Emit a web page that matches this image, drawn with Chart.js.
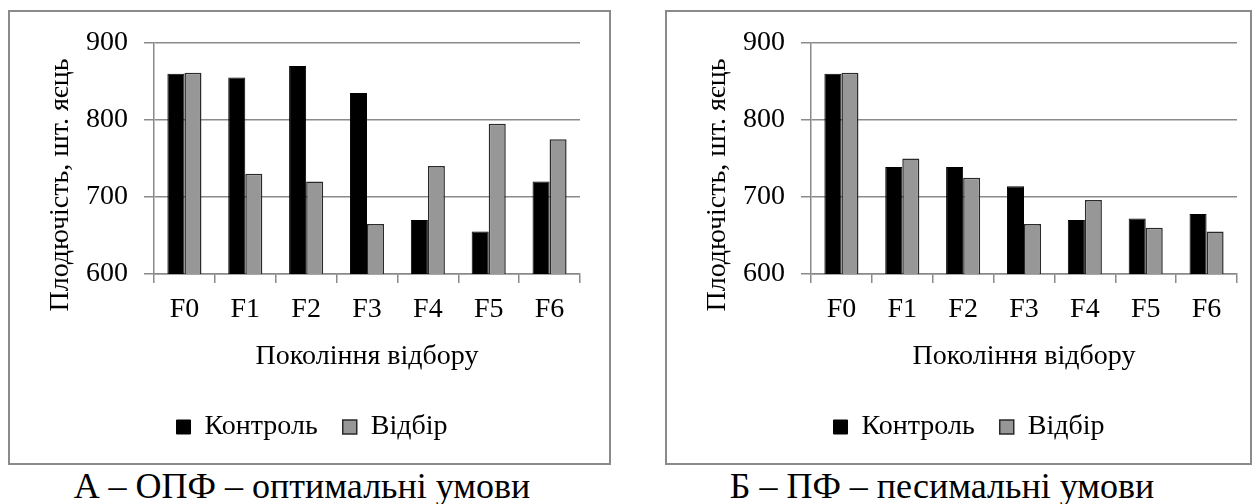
<!DOCTYPE html>
<html>
<head>
<meta charset="utf-8">
<script src="https://cdn.jsdelivr.net/npm/chart.js@4/dist/chart.umd.min.js"></script>
<style>
  html, body { margin: 0; padding: 0; background: #fff; }
  body { width: 1256px; height: 504px; position: relative; overflow: hidden;
         font-family: 'Liberation Serif', serif; }
  .frame { position: absolute; top: 10px; height: 455px; box-sizing: border-box;
           border: 2px solid #8a8a8a; }
  canvas { position: absolute; top: 10px; }
  .caption { position: absolute; top: 466px; font-family: 'Liberation Serif', serif;
             font-size: 36px; line-height: 40px; white-space: nowrap; color: #000;
             transform: translateX(-50%); }
</style>
</head>
<body>
<div class="frame" style="left:8px;width:603px"></div>
<div class="frame" style="left:665px;width:587px"></div>
<canvas id="chartOpt" width="601" height="454" style="left:8px"></canvas>
<canvas id="chartPes" width="591" height="454" style="left:665px"></canvas>
<div class="caption" style="left:302px">А – ОПФ – оптимальні умови</div>
<div class="caption" style="left:942px">Б – ПФ – песимальні умови</div>

<script>
// Generations of selection
const generations = ['F0', 'F1', 'F2', 'F3', 'F4', 'F5', 'F6'];

// Optimal conditions (ОПФ): eggs per hen
const optControl   = [860, 855, 870, 835, 670, 655, 720];
const optSelection = [861, 730, 720, 665, 740, 795, 775];

// Pessimal conditions (ПФ): eggs per hen
const pesControl   = [860, 739, 739, 714, 670, 672, 678];
const pesSelection = [861, 750, 725, 665, 696, 660, 655];

// Value axis range and step
const yMin = 600;
const yMax = 900;
const yStep = 100;

const seriesNames = ['Контроль', 'Відбір'];
const yTitle = 'Плодючість, шт. яєць';
const xTitle = 'Покоління відбору';

const FONT = "'Liberation Serif'";
const GRID = '#8a8a8a';

Chart.defaults.font.family = FONT;

// Rotated value-axis caption, placed beside the axis
const sideTitle = {
  id: 'sideTitle',
  afterDraw(chart, args, opts) {
    const ctx = chart.ctx;
    ctx.save();
    ctx.translate(opts.x, opts.y);
    ctx.rotate(-Math.PI / 2);
    ctx.font = '28px ' + FONT;
    ctx.fillStyle = '#000';
    ctx.textAlign = 'center';
    ctx.textBaseline = 'middle';
    ctx.fillText(opts.text, 0, 0);
    ctx.restore();
  }
};

function buildChart(id, control, selection, padRight) {
  return new Chart(document.getElementById(id), {
    type: 'bar',
    data: {
      labels: generations,
      datasets: [
        {
          label: seriesNames[0],
          data: control,
          backgroundColor: '#000000',
          borderColor: '#000000',
          borderWidth: 1
        },
        {
          label: seriesNames[1],
          data: selection,
          backgroundColor: '#979797',
          borderColor: '#2a2a2a',
          borderWidth: 1.5
        }
      ]
    },
    options: {
      responsive: false,
      animation: false,
      devicePixelRatio: 1,
      layout: { padding: { top: 31, left: 36, right: padRight, bottom: 13 } },
      datasets: { bar: { barPercentage: 1, categoryPercentage: 0.56, borderSkipped: 'start' } },
      scales: {
        x: {
          afterFit(scale) { scale.height = 114; },
          grid: {
            display: true, offset: true, drawOnChartArea: false,
            color: GRID, lineWidth: 1.5, tickLength: 9
          },
          border: { display: true, color: GRID, width: 1.5 },
          ticks: { color: '#000', padding: 10, font: { family: FONT, size: 28 } },
          title: {
            display: true, text: xTitle, color: '#000',
            font: { family: FONT, size: 28 }, padding: { top: 0, bottom: 15 }
          }
        },
        y: {
          min: yMin, max: yMax,
          afterFit(scale) { scale.width = 110; },
          grid: { color: GRID, lineWidth: 1.5, tickLength: 10 },
          border: { display: true, color: GRID, width: 1.5 },
          ticks: { stepSize: yStep, color: '#000', padding: 16, font: { family: FONT, size: 28 } }
        }
      },
      plugins: {
        legend: {
          position: 'bottom',
          labels: {
            boxWidth: 14, boxHeight: 14, padding: 25, color: '#000',
            font: { family: FONT, size: 28 }
          }
        },
        tooltip: { enabled: false },
        sideTitle: { text: yTitle, x: 53, y: 175 }
      }
    },
    plugins: [sideTitle]
  });
}

buildChart('chartOpt', optControl, optSelection, 29);
buildChart('chartPes', pesControl, pesSelection, 19);
</script>
</body>
</html>
